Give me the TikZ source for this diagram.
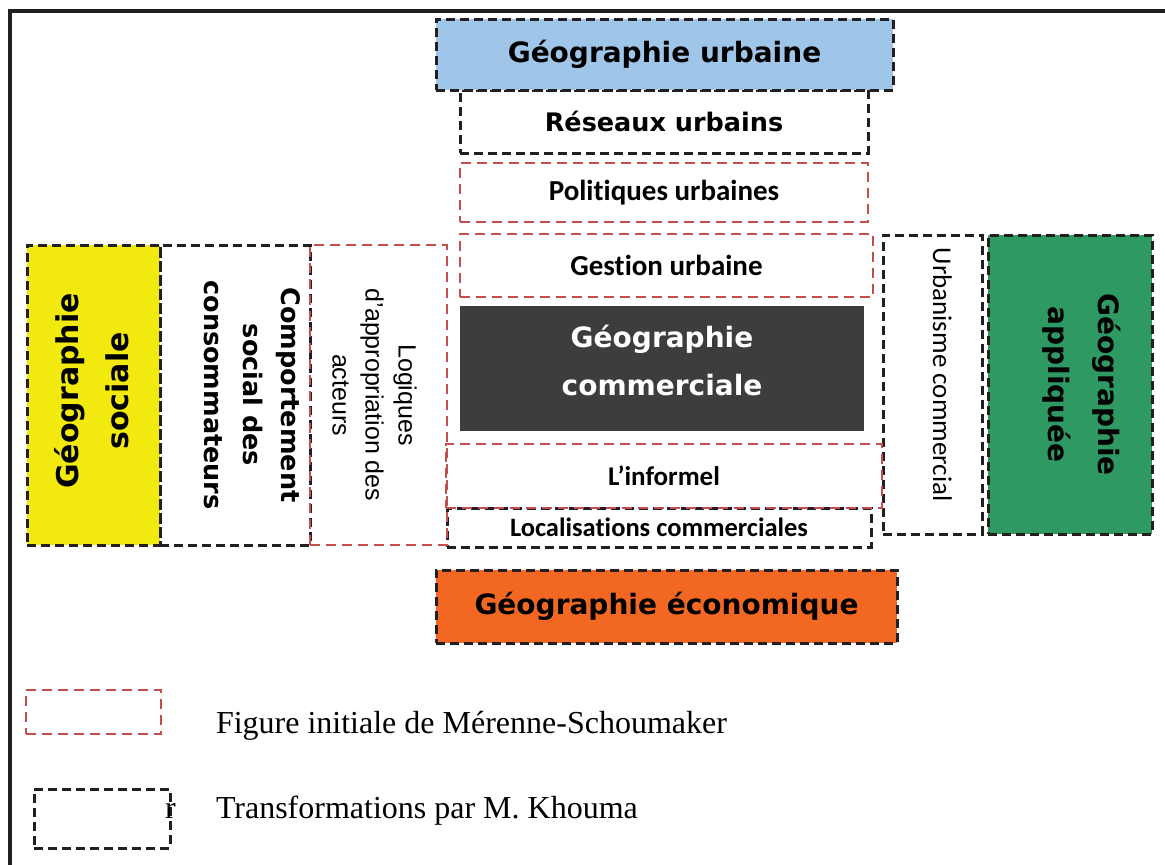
\documentclass[tikz,border=0pt]{standalone}
\usepackage{fontspec}
\setmainfont{Liberation Serif}
\newfontfamily\heavyf{DejaVu Sans}
\newfontfamily\carlf[Ligatures={NoCommon}]{Carlito}
\newfontfamily\arialf{Liberation Sans}
\definecolor{ink}{RGB}{35,31,32}
\definecolor{brick}{RGB}{196,80,77}
\definecolor{skyblue}{RGB}{159,197,232}
\definecolor{darkgrey}{RGB}{61,61,61}
\definecolor{lemon}{RGB}{242,234,14}
\definecolor{jade}{RGB}{46,153,99}
\definecolor{tangerine}{RGB}{242,103,34}

\begin{document}
\begin{tikzpicture}[x=1pt,y=-1pt]
        \tikzstyle{every node}+=[inner sep=0pt, outer sep=0pt]
        \tikzstyle{trans}=[draw=ink, line width=3pt, dash pattern=on 9pt off 5pt]
        \tikzstyle{orig}=[draw=brick, line width=2.5pt, dash pattern=on 10pt off 6pt]
        \tikzstyle{heavy}=[font=\heavyf\bfseries\fontsize{28}{50}\selectfont, align=center]
        \tikzstyle{calb}=[font=\carlf\bfseries\fontsize{29}{34}\selectfont]
        \useasboundingbox (0,0) rectangle (1165,865);
        \draw [ink, line width=4pt] (1165,11) -- (9.5,11) -- (9.5,865);
        \node [trans, minimum width=408pt, minimum height=63pt] (reseaux) at (664,121.5) {\heavyf\bfseries\fontsize{25.5}{30}\selectfont Réseaux urbains};
        \node [orig, calb, minimum width=408pt, minimum height=59pt] (politiques) at (664,192.5) {Politiques urbaines};
        \node [orig, calb, minimum width=413pt, minimum height=63pt] (gestion) at (666.5,265.5) {Gestion urbaine};
        \node [fill=darkgrey, minimum width=404pt, minimum height=125pt] (commerce) at (662,368.5) {};
        \node [heavy, text=white, font=\heavyf\bfseries\fontsize{28}{48}\selectfont] (commerceT) at (662,360) {Géographie\\commerciale};
        \node [trans, minimum width=424pt, minimum height=39pt, font=\carlf\bfseries\fontsize{26.5}{30}\selectfont] (local) at (659,527.5) {Localisations commerciales};
        \node [trans, minimum width=99pt, minimum height=299pt] (urbanisme) at (932.5,384.5) {};
        \node [orig, minimum width=436pt, minimum height=64pt, font=\carlf\bfseries\fontsize{27}{30}\selectfont] (informel) at (664,476) {L’informel};
        \node [trans, heavy, fill=skyblue, minimum width=457pt, minimum height=71pt] (urbaine) at (664.5,54.5) {Géographie urbaine};
        \node [trans, heavy, fill=tangerine, minimum width=461pt, minimum height=73pt] (economique) at (666.5,606.5) {Géographie économique};
        \node [trans, fill=lemon, minimum width=133pt, minimum height=300pt] (sociale) at (93.5,395) {};
        \node [trans, minimum width=150pt, minimum height=300pt] (comportement) at (235,395) {};
        \node [orig, minimum width=137pt, minimum height=300pt] (logiques) at (378.5,395) {};
        \node [trans, fill=jade, minimum width=164pt, minimum height=299pt] (appliquee) at (1070,384.5) {};
        \node [heavy, rotate=90, font=\heavyf\bfseries\fontsize{30}{50}\selectfont] (socialeT) at (91.5,391) {Géographie\\sociale};
        \node [heavy, rotate=-90, font=\heavyf\bfseries\fontsize{25.5}{38.5}\selectfont] (comportementT) at (252.5,395) {Comportement\\social des\\consommateurs};
        \node [rotate=-90, align=center, font=\arialf\fontsize{25}{33}\selectfont] (logiquesT) at (374.5,395) {Logiques\\d’appropriation des\\acteurs};
        \node [rotate=-90, font=\carlf\fontsize{27}{30}\selectfont] (urbanismeT) at (942.5,374.5) {Urbanisme commercial};
        \node [heavy, rotate=-90] (appliqueeT) at (1082,384.5) {Géographie\\appliquée};
        \node [orig, minimum width=135pt, minimum height=44pt] (legorig) at (93.5,712) {};
        \node [trans, minimum width=136pt, minimum height=59pt] (legtrans) at (102,818.5) {};
        \node [anchor=base west, font=\fontsize{32}{38}\selectfont] (legorigT) at (216,733) {Figure initiale de Mérenne-Schoumaker};
        \node [anchor=base west, font=\fontsize{32}{38}\selectfont] (legtransT) at (216,818) {Transformations par M. Khouma};
        \node [anchor=base west, font=\fontsize{32}{38}\selectfont] (stray) at (165,818) {r};
    \end{tikzpicture}
\end{document}
